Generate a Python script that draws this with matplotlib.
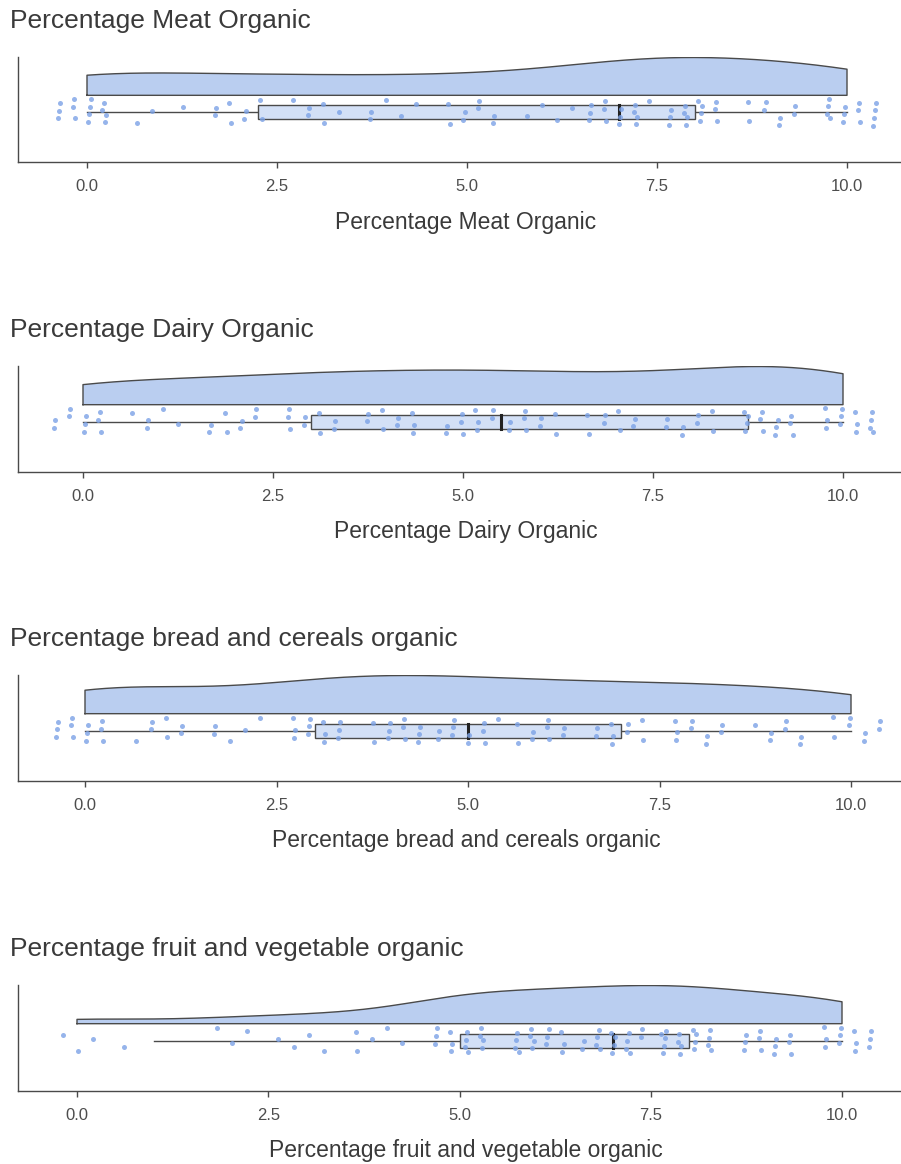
"""
Raincloud plots (half violin + box + jittered points) of organic shares.
"""

import numpy as np
import matplotlib
matplotlib.use("Agg")
import matplotlib.pyplot as plt

plt.rcParams['font.family'] = ['Liberation Sans', 'DejaVu Sans']

# answer values 0..10 and how many respondents gave each one
values = np.arange(0, 11)
meat_counts = [14, 3, 8, 6, 5, 8, 4, 14, 14, 8, 14]
dairy_counts = [10, 5, 8, 9, 9, 10, 9, 8, 8, 13, 13]
bread_counts = [12, 7, 5, 12, 11, 11, 9, 9, 9, 7, 8]
fruit_counts = [3, 1, 3, 4, 5, 14, 14, 16, 17, 12, 12]

titles = ['Percentage Meat Organic',
          'Percentage Dairy Organic',
          'Percentage bread and cereals organic',
          'Percentage fruit and vegetable organic']
tick_values = [0, 2.5, 5, 7.5, 10]
tick_labels = ['0.0', '2.5', '5.0', '7.5', '10.0']

VIOLIN_FILL = '#bacef0'
BOX_FILL = '#d3e0f6'
POINT_COLOR = '#7ca2e6'
EDGE = '#4a4a4a'
TEXT = '#3a3a3a'

W, H = 901, 1164


def bw_nrd0(x):
    sd = np.std(x, ddof=1)
    iqr = np.subtract(*np.percentile(x, [75, 25]))
    lo = min(sd, iqr / 1.34)
    if lo <= 0:
        lo = sd
    return 0.9 * lo * len(x) ** (-0.2)


def kde(x, grid):
    bw = bw_nrd0(x)
    z = (grid[:, None] - x[None, :]) / bw
    return np.exp(-0.5 * z ** 2).sum(axis=1) / (len(x) * bw * np.sqrt(2 * np.pi))


def raincloud(ax, data):
    # half violin, trimmed to the data range
    grid = np.linspace(data.min(), data.max(), 300)
    dens = kde(data, grid)
    dens = dens / dens.max() * 38
    base = 17
    ax.fill_between(grid, base, base + dens, facecolor=VIOLIN_FILL,
                    edgecolor='none', zorder=2)
    ax.plot(np.r_[grid[0], grid, grid[-1], grid[0]],
            np.r_[base, base + dens, base, base], color=EDGE, lw=1.0, zorder=3)

    # box plot (outliers hidden, points shown instead)
    q1, med, q3 = np.percentile(data, [25, 50, 75])
    iqr = q3 - q1
    lo = data[data >= q1 - 1.5 * iqr].min()
    hi = data[data <= q3 + 1.5 * iqr].max()
    ax.plot([lo, q1], [0, 0], color=EDGE, lw=1.0, zorder=3)
    ax.plot([q3, hi], [0, 0], color=EDGE, lw=1.0, zorder=3)
    ax.add_patch(plt.Rectangle((q1, -7), q3 - q1, 14, facecolor=BOX_FILL,
                               edgecolor=EDGE, lw=1.0, zorder=3))
    ax.plot([med, med], [-7, 7], color='#222222', lw=2.2, zorder=4)

    # jittered points (low discrepancy offsets)
    idx = np.arange(len(data)) + 1
    jx = (idx * 0.7548776662) % 1.0
    jy = (idx * 0.5698402910) % 1.0
    ax.scatter(data + (jx - 0.5) * 0.8, (jy - 0.5) * 27, s=13,
               color=POINT_COLOR, alpha=0.8, linewidths=0, zorder=5)


fig = plt.figure(figsize=(W / 100, H / 100), dpi=100)

all_counts = [meat_counts, dairy_counts, bread_counts, fruit_counts]
# pixel layout of each panel: x of 0.0, x of 10.0, top and bottom of panel
layout = [(87, 847, 57, 162), (83, 843, 366, 472),
          (85, 851, 675, 781), (77, 842, 985, 1091)]

for counts, title, (x0, x10, top, bot) in zip(all_counts, titles, layout):
    data = np.repeat(values, counts).astype(float)
    ppu = (x10 - x0) / 10
    left, right = 18, 916
    ax = fig.add_axes([left / W, 1 - bot / H, (right - left) / W, (bot - top) / H])
    raincloud(ax, data)
    ax.set_xlim((left - x0) / ppu, (right - x0) / ppu)
    ax.set_ylim(-50, 55.5)
    ax.set_yticks([])
    ax.set_xticks(tick_values)
    ax.set_xticklabels(tick_labels)
    ax.tick_params(axis='x', length=4, width=1.0, color=EDGE, pad=8,
                   labelsize=12, labelcolor='#4d4d4d')
    for side in ['top', 'right']:
        ax.spines[side].set_visible(False)
    for side in ['left', 'bottom']:
        ax.spines[side].set_color(EDGE)
        ax.spines[side].set_linewidth(1.0)
    fig.text(10 / W, 1 - (top - 36) / H, title, fontsize=19, color=TEXT,
             ha='left', va='center')
    fig.text(466 / W, 1 - (bot + 60) / H, title, fontsize=16.5, color=TEXT,
             ha='center', va='center')

fig.savefig('out.png', dpi=100)
